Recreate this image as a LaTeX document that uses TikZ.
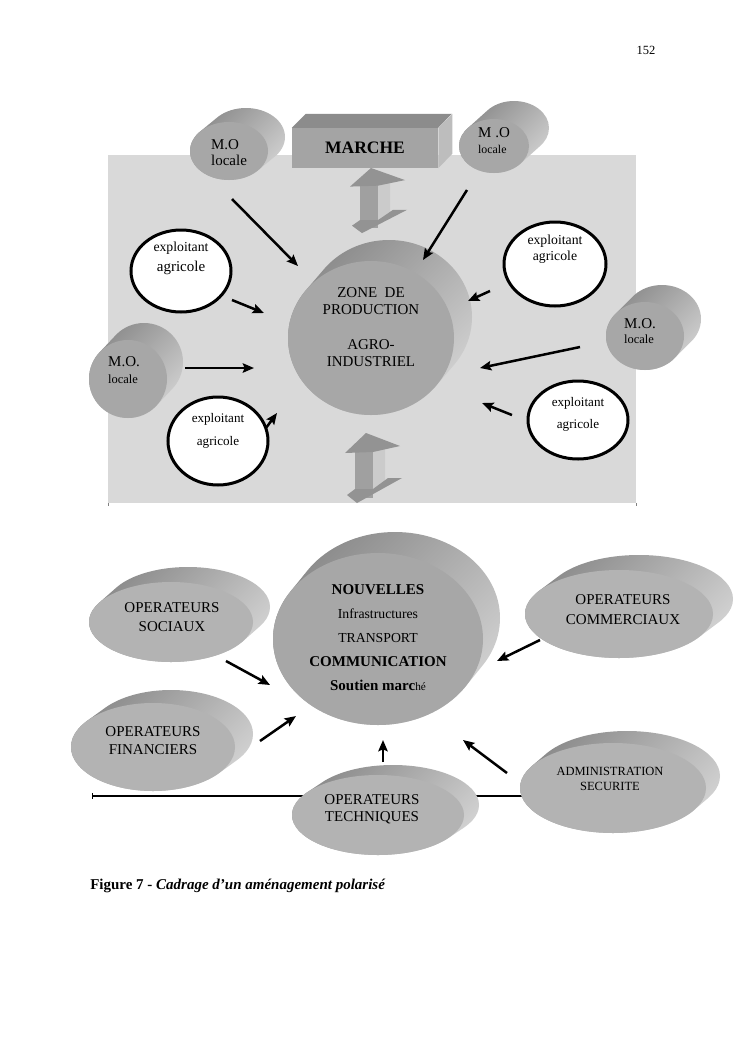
\documentclass[tikz,border=0pt]{standalone}
\usepackage{fontspec}
\setmainfont{Liberation Serif}
\usetikzlibrary{shapes.geometric,arrows.meta}
\definecolor{bgc}{HTML}{D9D9D9}
\definecolor{faceT}{HTML}{A7A7A7}
\definecolor{faceB}{HTML}{B3B3B3}
\definecolor{sided}{HTML}{8A8A8A}
\definecolor{sidel}{HTML}{D2D2D2}
\definecolor{boxfront}{HTML}{A4A4A4}
\definecolor{boxtop}{HTML}{8C8C8C}
\definecolor{boxside}{HTML}{BDBDBD}
\definecolor{arA}{HTML}{A0A0A0}
\definecolor{arB}{HTML}{CBCBCB}
\definecolor{arC}{HTML}{939393}
\newcommand\myfs[2]{\fontsize{#1}{#2}\selectfont}
\newcommand\discside[6]{%
  \begin{scope}
    \clip foreach \k in {0,...,24} {({#1+\k/24*#5},{#2+\k/24*#6}) ellipse [x radius={#3*0.8pt}, y radius={#4*0.8pt}]};
    \shade[top color=sided, bottom color=sidel, shading angle=45] ({#1-#3-2},{#2+#6-#4-2}) rectangle ({#1+#5+#3+2},{#2+#4+2});
  \end{scope}}
\newcommand\dblarrow[3]{%
  \begin{scope}[shift={(#1,#2)}, yscale=#3]
    \fill[arB] (8,19) -- (20,13) -- (20,53) -- (8,57) -- cycle;
    \fill[arA] (-10,16) rectangle (8,65);
    \fill[arC] (-20,20) -- (1,0) -- (35,13) -- (8,19) -- cycle;
    \fill[arC] (-18,62) -- (-8,70) -- (37,45) -- (23,45) -- (8,56) -- (-10,56) -- cycle;
  \end{scope}}
\tikzset{
  face/.style={ellipse, inner sep=0pt, draw=none},
  fsz/.style 2 args={minimum width={1.6pt*#1}, minimum height={1.6pt*#2}},
  expl/.style={ellipse, inner sep=0pt, draw=black, line width=2.4pt, fill=white},
  txt/.style={inner sep=0pt, align=center},
  arr/.style={line width=2pt, -{Stealth[length=9pt, width=7.5pt, inset=1.5pt]}},
}
\begin{document}
\begin{tikzpicture}[x=0.8pt,y=-0.8pt]
\useasboundingbox (0,0) rectangle (744,1053);
\fill[white] (0,0) rectangle (744,1053);
\node[txt, font={\myfs{10}{12}}] (pg) at (646,50) {152};

% ---------- upper panel ----------
\fill[bgc] (108,155) rectangle (636,503);
\draw[line width=0.4pt, gray] (108,503) -- (108,506) (636,503) -- (636,506);

% MARCHE box
\node[fill=boxfront, minimum width=116.8pt, minimum height=32pt, inner sep=0pt, font={\bfseries\myfs{14}{16}}] (marche) at (365,148) {MARCHE};
\fill[boxtop] (marche.north west) -- ++(14,-14) -- ++(146,0) -- (marche.north east) -- cycle;
\fill[boxside] (marche.north east) -- ++(14,-14) -- ++(0,40) -- (marche.south east) -- cycle;

% M.O. cylinders
\discside{229}{151}{39}{29}{17}{-14}
\node[face, fill=faceT, fsz={39}{29}] (moTL) at (229,151) {};
\node[txt, align=left, font={\myfs{12}{12.8}}] (moTLt) at (229,153) {M.O\\locale};

\discside{494}{146}{35}{27}{20}{-18}
\node[face, fill=faceT, fsz={35}{27}] (moTR) at (494,146) {};
\node[txt, align=left, font={\myfs{12}{12.8}}] (moTRt) at (494,141) {M .O\\{\myfs{9.5}{12.8}locale}};

\discside{128}{379}{39}{39}{16}{-17}
\node[face, fill=faceT, fsz={39}{39}] (moL) at (128,379) {};
\node[txt, align=left, font={\myfs{12}{13.6}}] (moLt) at (124,370) {M.O.\\{\myfs{10}{13.6}locale}};

\discside{645}{336}{39}{34}{17}{-17}
\node[face, fill=faceT, fsz={39}{34}] (moR) at (645,336) {};
\node[txt, align=left, font={\myfs{12}{12}}] (moRt) at (640,331) {M.O.\\{\myfs{10}{12}locale}};

% double arrows
\dblarrow{370}{168}{0.93}
\dblarrow{365}{433}{1}

% central zone
\discside{371}{338}{83}{77}{18}{-21}
\node[face, fill=faceT, fsz={83}{77}] (zone) at (371,338) {};
\node[txt, font={\myfs{12}{13.6}}] (zonet) at (371,327) {ZONE~ DE\\PRODUCTION\\[14pt]AGRO-\\INDUSTRIEL};

% exploitants
\node[expl, fsz={50}{41}] (ex1) at (181,271) {};
\node[txt, font={\myfs{11}{16}}] (ex1t) at (181,258) {exploitant\\{\myfs{12}{16}agricole}};
\node[expl, fsz={51}{42}] (ex2) at (555,264) {};
\node[txt, font={\myfs{11}{12.8}}] (ex2t) at (555,249) {exploitant\\agricole};
\node[expl, fsz={50}{39}] (ex3) at (578,420) {};
\node[txt, font={\myfs{10.5}{17.6}}] (ex3t) at (578,414) {exploitant\\agricole};
\node[expl, fsz={50}{44}] (ex4) at (218,441) {};
\node[txt, font={\myfs{10.5}{18.4}}] (ex4t) at (218,431) {exploitant\\agricole};

% arrows upper
\coordinate (a1s) at (232,199); \coordinate (a1e) at (298,266);
\coordinate (a2s) at (467,190); \coordinate (a2e) at (423,260);
\coordinate (a3s) at (232,300); \coordinate (a3e) at (264,313);
\coordinate (a4s) at (490,291); \coordinate (a4e) at (468,301);
\coordinate (a5s) at (185,368); \coordinate (a5e) at (254,368);
\coordinate (a6s) at (580,347); \coordinate (a6e) at (480,368);
\coordinate (a7s) at (512,415); \coordinate (a7e) at (482,403);
\coordinate (a8s) at (266,428); \coordinate (a8e) at (277,413);
\foreach \i in {1,...,8} {\draw[arr] (a\i s) -- (a\i e);}

% ---------- lower panel ----------
\coordinate (hl) at (92,796); \coordinate (hr) at (560,796);
\draw[line width=0.9pt] (hl) -- (hr);
\draw[line width=0.4pt] (92,793) -- (92,799);

\discside{171}{622}{82}{40}{17}{-15}
\node[face, fill=faceB, fsz={82}{40}] (soc) at (171,622) {};
\node[txt, font={\myfs{12}{15.2}}] (soct) at (172,617) {OPERATEURS\\SOCIAUX};

\discside{153}{747}{82}{44}{18}{-13}
\node[face, fill=faceB, fsz={82}{44}] (fin) at (153,747) {};
\node[txt, font={\myfs{12}{14.4}}] (fint) at (153,741) {OPERATEURS\\FINANCIERS};

\discside{378}{639}{105}{86}{17}{-21}
\node[face, fill=faceT, fsz={105}{86}] (nouv) at (378,639) {};
\node[txt, font={\myfs{12}{19.2}}] (nouvt) at (378,638) {{\bfseries NOUVELLES}\\{\fontsize{11}{19.2}\selectfont Infrastructures}\\{\fontsize{11}{19.2}\selectfont TRANSPORT}\\{\bfseries COMMUNICATION}\\{\bfseries Soutien marc}{\fontsize{9}{19.2}\selectfont hé}};

\discside{619}{614}{94}{44}{20}{-15}
\node[face, fill=faceB, fsz={94}{44}] (comm) at (619,614) {};
\node[txt, font={\myfs{12}{16}}] (commt) at (623,610) {OPERATEURS\\COMMERCIAUX};

\discside{378}{815}{86}{40}{15}{-10}
\node[face, fill=faceB, fsz={86}{40}] (tech) at (378,815) {};
\node[txt, font={\myfs{12}{13.6}}] (techt) at (372,809) {OPERATEURS\\TECHNIQUES};

\discside{613}{788}{93}{45}{14}{-12}
\node[face, fill=faceB, fsz={93}{45}] (admin) at (613,788) {};
\node[txt, font={\myfs{10}{12}}] (admint) at (610,779) {ADMINISTRATION\\SECURITE};

% arrows lower
\coordinate (b1s) at (226,661); \coordinate (b1e) at (270,685);
\coordinate (b2s) at (260,741); \coordinate (b2e) at (296,716);
\coordinate (b3s) at (383,762); \coordinate (b3e) at (383,740);
\coordinate (b4s) at (507,773); \coordinate (b4e) at (463,740);
\coordinate (b5s) at (540,640); \coordinate (b5e) at (497,661);
\foreach \i in {1,...,5} {\draw[arr] (b\i s) -- (b\i e);}

% caption
\node[anchor=west, inner sep=0pt, font={\myfs{12}{14}}] (cap) at (90,886) {\textbf{Figure 7 - }\textbf{\textit{Cadrage d’un aménagement polarisé}}};
\end{tikzpicture}
\end{document}
